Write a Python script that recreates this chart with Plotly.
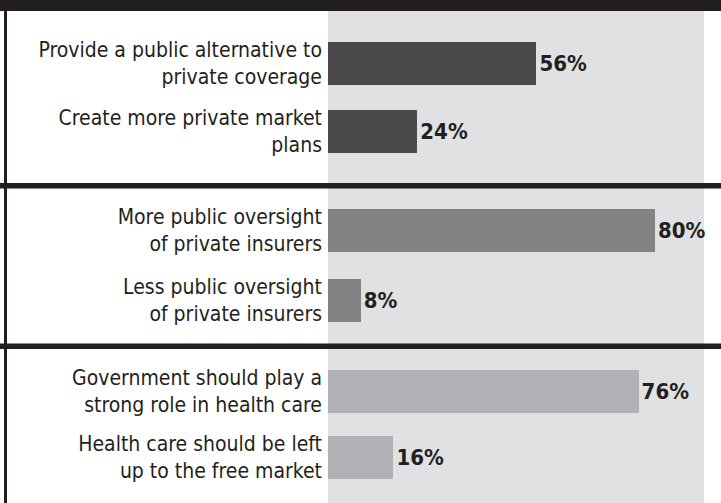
import plotly.graph_objects as go

# ---- data ----
group1_labels = ["Provide a public alternative to<br>private coverage", "Create more private market<br>plans"]
group1_values = [56, 24]
group2_labels = ["More public oversight<br>of private insurers", "Less public oversight<br>of private insurers"]
group2_values = [80, 8]
group3_labels = ["Government should play a<br>strong role in health care", "Health care should be left<br>up to the free market"]
group3_values = [76, 16]

group_colors = ["#4a4a4c", "#838386", "#b1b2b5"]

W, H = 721, 503
DARK = "#231f20"
PANEL = "#e0e1e3"
FONT = "DejaVu Sans Condensed, Liberation Sans Narrow, Arial Narrow, sans-serif"

def py(p):  # pixel-from-top -> paper fraction
    return 1 - p / H

x_dom = [328 / W, 704 / W]
groups = [
    (group1_labels, group1_values, group_colors[0], (29.5, 165.5), 101, 43 / 68),
    (group2_labels, group2_values, group_colors[1], (194.75, 335.75), 92, 43 / 70.5),
    (group3_labels, group3_values, group_colors[2], (358.5, 490.5), 92, 43 / 66),
]

fig = go.Figure()
layout_axes = {}
for i, (labels, values, color, (top, bot), xmax, bw) in enumerate(groups, start=1):
    sfx = "" if i == 1 else str(i)
    fig.add_trace(go.Bar(
        y=labels, x=values, orientation="h",
        marker=dict(color=color, line=dict(width=0)),
        width=bw,
        text=[f"<b>{v}%</b>" for v in values],
        textposition="outside",
        constraintext="none",
        cliponaxis=False,
        textfont=dict(family=FONT, size=22, color=DARK),
        xaxis="x" + sfx, yaxis="y" + sfx,
        showlegend=False, hoverinfo="skip",
    ))
    layout_axes["xaxis" + sfx] = dict(domain=x_dom, range=[0, xmax], visible=False,
                                      anchor="y" + sfx, fixedrange=True)
    layout_axes["yaxis" + sfx] = dict(domain=[py(bot), py(top)], range=[1.5, -0.5],
                                      anchor="x" + sfx, type="category",
                                      showgrid=False, zeroline=False, showline=False,
                                      ticks="", ticklabelstandoff=5, fixedrange=True,
                                      tickfont=dict(family=FONT, size=21, color=DARK))

shapes = [
    # gray panel
    dict(type="rect", xref="paper", yref="paper", x0=328 / W, x1=704 / W, y0=0, y1=py(11),
         fillcolor=PANEL, line=dict(width=0), layer="below"),
    # top band
    dict(type="rect", xref="paper", yref="paper", x0=0, x1=1, y0=py(11), y1=1,
         fillcolor=DARK, line=dict(width=0), layer="below"),
    # left rule
    dict(type="rect", xref="paper", yref="paper", x0=4 / W, x1=7 / W, y0=0, y1=py(10),
         fillcolor=DARK, line=dict(width=0), layer="below"),
    # separators
    dict(type="rect", xref="paper", yref="paper", x0=0, x1=1, y0=py(188.5), y1=py(183),
         fillcolor=DARK, line=dict(width=0), layer="below"),
    dict(type="rect", xref="paper", yref="paper", x0=0, x1=1, y0=py(349), y1=py(343.5),
         fillcolor=DARK, line=dict(width=0), layer="below"),
]

fig.update_layout(
    width=W, height=H,
    margin=dict(l=0, r=0, t=0, b=0),
    paper_bgcolor="white", plot_bgcolor="rgba(0,0,0,0)",
    shapes=shapes, bargap=0,
    font=dict(family=FONT, color=DARK),
    **layout_axes,
)

fig.write_html("out.html",
               config={"displayModeBar": False, "staticPlot": True},
               post_script="document.body.style.margin='0';document.body.style.overflow='hidden';")
